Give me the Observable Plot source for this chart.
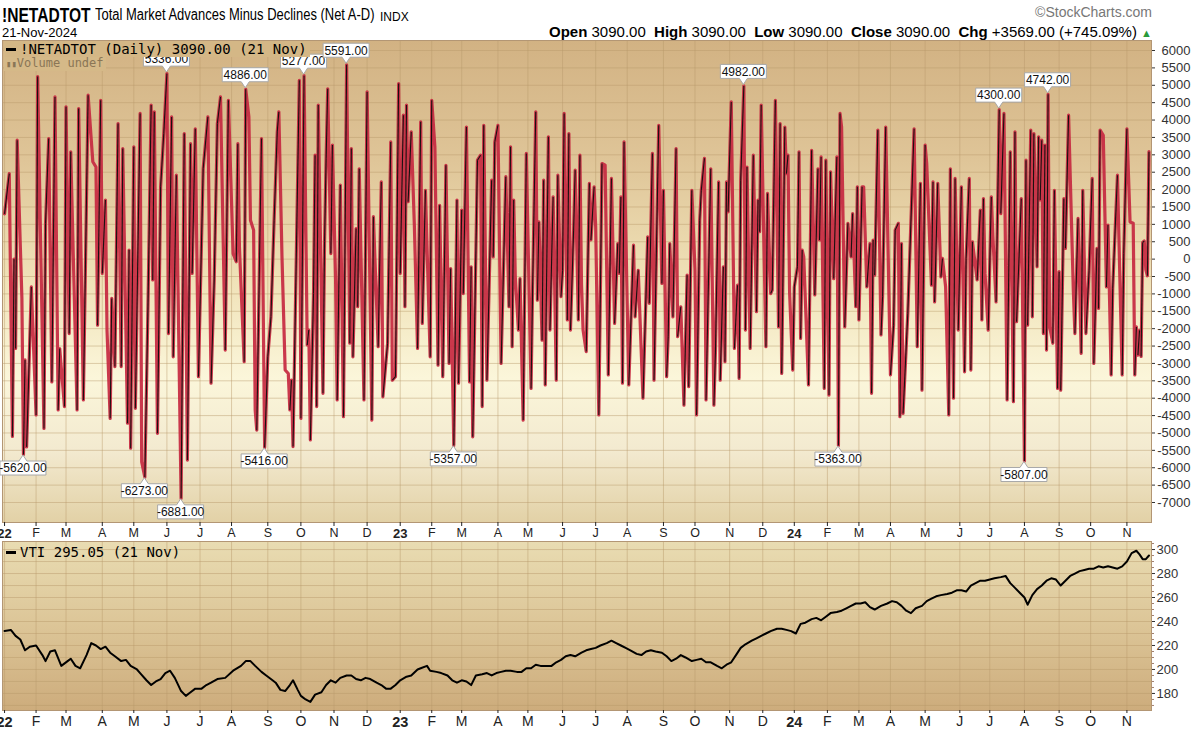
<!DOCTYPE html>
<html><head><meta charset="utf-8">
<script src="https://cdn.jsdelivr.net/npm/d3@7"></script>
<script src="https://cdn.jsdelivr.net/npm/@observablehq/plot@0.6"></script>
<style>
body{margin:0;width:1200px;height:739px;background:#fff;position:relative;overflow:hidden;font-family:"Liberation Sans",Arial,sans-serif;color:#000;}
.abs{position:absolute;white-space:nowrap;}
#top{position:absolute;left:0;top:40px;}
#bot{position:absolute;left:0;top:541px;}
.leg{position:absolute;white-space:nowrap;font-family:"DejaVu Sans Mono",monospace;font-size:14px;line-height:16px;}
.dash{display:inline-block;width:10px;height:3px;background:#000;vertical-align:middle;margin-right:4px;position:relative;top:-1px;}
</style></head><body>
<div class="abs" style="left:2px;top:3px;font:bold 20.5px 'Liberation Sans',Arial;transform:scaleX(0.76);transform-origin:0 0;">!NETADTOT</div>
<div class="abs" style="left:95px;top:6px;font:16px 'Liberation Sans',Arial;transform:scaleX(0.81);transform-origin:0 0;">Total Market Advances Minus Declines (Net A-D)</div>
<div class="abs" style="left:380px;top:10px;font:12px 'Liberation Sans',Arial;">INDX</div>
<div class="abs" style="left:2px;top:25px;font-size:13px;">21-Nov-2024</div>
<div class="abs" style="right:48px;top:4px;font-size:14px;color:#777;">©StockCharts.com</div>
<div class="abs" style="right:48px;top:23px;font-size:15px;">
  <b>Open</b> 3090.00&nbsp; <b>High</b> 3090.00&nbsp; <b>Low</b> 3090.00&nbsp; <b>Close</b> 3090.00&nbsp; <b>Chg</b> +3569.00 (+745.09%) <span style="color:#2a9a3a;font-size:11px;">▲</span>
</div>
<div id="top"></div>
<div id="bot"></div>
<div class="leg" style="left:4px;top:41px;background:#d4b786;padding:0 3px 0 2px;"><span class="dash"></span>!NETADTOT (Daily) 3090.00 (21 Nov)</div>
<div class="leg" style="left:4px;top:57px;color:#8a7656;font-size:12px;line-height:13px;background:#d5b988;padding:0 2px;"><span style="font-size:9px;">▮▮</span>Volume undef</div>
<div class="leg" style="left:6px;top:544px;"><span class="dash"></span>VTI 295.05 (21 Nov)</div>
<script>
// ---------- calendar (NYSE sessions) ----------
const holidays = ["2022-01-17","2022-02-21","2022-04-15","2022-05-30","2022-06-20","2022-07-04","2022-09-05","2022-11-24","2022-12-26",
"2023-01-02","2023-01-16","2023-02-20","2023-04-07","2023-05-29","2023-06-19","2023-07-04","2023-09-04","2023-11-23","2023-12-25",
"2024-01-01","2024-01-15","2024-02-19","2024-03-29","2024-05-27","2024-06-19","2024-07-04","2024-09-02"];
const firstSession = "2022-01-03", lastSession = "2024-11-21";
const monthTickLabels = ["22","F","M","A","M","J","J","A","S","O","N","D","23","F","M","A","M","J","J","A","S","O","N","D","24","F","M","A","M","J","J","A","S","O","N"];

// ---------- !NETADTOT daily values: [session index, value] ----------
const ad2022 = [[0,1300],[3,2460],[5,-5100],[6,0],[7,-2570],[8,3420],[11,-1130],[12,-5620],[13,-2900],[14,-5400],[17,-800],[20,-4480],[21,5250],[25,-4870],[26,1020],[28,3470],[30,-3530],[32,4665],[34,-4340],[35,-2570],[38,-4240],[39,4380],[41,-2140],[42,3085],[46,-4340],[47,4330],[50,-4050],[53,4715],[56,2800],[58,2650],[59,-1900],[61,4570],[62,-410],[64,1700],[65,-2040],[67,-4580],[68,-1130],[70,-3090],[72,3900],[74,-3090],[75,3180],[78,-4720],[79,260],[80,-5440],[82,3230],[83,-4290],[86,4190],[87,-5830],[89,-6273],[91,-1320],[93,4430],[94,-600],[95,4235],[97,-5010],[99,2080],[101,3610],[103,5336],[104,-2140],[106,4090],[107,-2810],[109,2414],[112,-6881],[114,3610],[116,-5780],[118,3320],[119,-410],[121,3750],[123,-3380],[126,2600],[129,4090],[131,-3570],[133,-600],[135,3900],[137,4665],[140,-2616],[142,4570],[145,160],[147,-75],[148,3320],[149,354],[152,-2950],[153,4886],[155,4090],[156,1120],[158,834],[159,-4340],[160,-4920],[163,3470],[165,-5416],[167,-2810],[169,-1660],[171,1120],[173,3660],[174,4235],[176,65],[178,-3190],[180,-3290],[181,-4340],[182,-3480],[183,-5390],[187,5144],[188,-4580],[190,5277],[192,-2470],[193,-2040],[194,-5200],[196,-990],[197,2990],[198,-4240],[199,4430],[202,-3860],[203,500],[204,2900],[205,4900],[207,160],[208,3280],[210,-600],[211,-4050],[213,2130],[215,-4530],[217,5591],[219,-2420],[220,3180],[221,-2810],[223,880],[224,-1370],[225,2600],[228,-4050],[230,4810],[233,-4630],[234,1220],[237,-2520],[239,2220],[240,-3960],[243,-2420],[245,3370],[246,-3480],[248,-3380],[250,5050]];
const ad2023 = [[251,-410],[253,4140],[254,-1370],[255,4430],[256,1650],[258,3660],[260,930],[262,-2570],[264,3950],[265,-1850],[267,1980],[270,-2810],[271,4570],[273,3230],[275,-3050],[276,1550],[278,-3380],[280,2700],[282,-3000],[283,-270],[285,-5357],[287,1700],[288,-3570],[290,1410],[291,-990],[293,3800],[295,-3530],[296,-220],[297,-5110],[300,2845],[302,2990],[303,-4240],[304,3850],[306,-3480],[309,2270],[310,65],[311,3370],[313,3850],[315,-3000],[318,2370],[320,-1370],[321,3230],[322,-2520],[323,1700],[324,-510],[326,-2040],[327,-560],[329,-4630],[331,3040],[334,-3720],[335,-800],[337,4235],[338,-1180],[339,1070],[341,-2330],[342,2270],[343,-3620],[345,3520],[346,-2040],[348,1790],[350,-3480],[351,2414],[353,-1080],[354,-320],[355,4190],[357,-1750],[358,3610],[359,-2040],[361,834],[362,2560],[364,-1750],[365,2990],[366,-700],[367,-2040],[369,-2660],[371,2180],[372,550],[374,2080],[375,930],[377,-4480],[379,2750],[381,2700],[383,-3330],[385,2320],[387,-1850],[389,450],[390,-410],[391,1790],[392,-3570],[393,3370],[396,-3620],[399,400],[400,-1660],[402,-320],[405,-4000],[408,640],[409,-1270],[411,3040],[412,-3480],[415,3850],[417,-700],[418,1980],[420,-3380],[421,-2230],[422,450],[424,-1660],[426,3180],[427,-2230],[429,-1370],[431,-4200],[433,-460],[434,-3670],[436,1980],[438,-320],[439,-4480],[441,1120],[442,1980],[444,2900],[445,-4050],[448,2600],[450,-4200],[451,-2616],[453,2220],[454,-3480],[456,-220],[457,-2950],[458,2220],[459,1360],[461,4520],[463,-2570],[465,-750],[466,-3430],[467,2270],[469,4982],[470,-2040],[471,2650],[473,-2570],[475,2990],[477,-1510],[478,1700],[479,790],[480,4430],[483,-2520],[484,1890],[486,-990],[487,-890],[489,4570],[491,-1950],[492,3900],[493,-3290],[495,3800],[496,2460],[497,2990],[498,-940],[500,-3190]];
const ad2024 = [[501,-800],[503,-220],[504,3085],[505,-2280],[506,260],[507,65],[510,-3620],[512,3130],[514,-1030],[516,2600],[517,550],[518,2940],[520,-3720],[521,2845],[523,-3910],[524,2510],[526,-560],[528,2940],[529,-5363],[530,4190],[531,3800],[533,-1950],[535,1030],[537,65],[538,1310],[540,-1370],[541,2080],[542,-1750],[544,2080],[545,2080],[547,-800],[549,450],[550,-3860],[551,550],[552,-460],[554,3710],[556,-2180],[557,-1080],[559,3800],[562,-3330],[564,-1900],[565,834],[567,1030],[568,-4530],[569,450],[570,-4440],[573,-1560],[577,3750],[579,-2520],[581,2180],[582,-3770],[584,3280],[585,2750],[588,-750],[589,2220],[590,-1230],[592,2180],[594,-510],[595,20],[597,-800],[599,-4480],[600,2600],[602,-4000],[603,2320],[605,-2040],[607,2080],[609,-3240],[610,20],[612,2320],[613,-3190],[614,500],[617,-600],[619,1410],[620,-1750],[621,1740],[622,-410],[624,-2040],[626,1790],[627,640],[629,-1230],[631,4300],[632,1310],[634,4190],[636,-4050],[638,3085],[640,-4100],[641,3660],[642,-1800],[645,1740],[647,-5807],[648,2845],[649,-1900],[651,3710],[652,-1660],[653,3610],[655,-220],[656,3520],[657,1700],[658,3420],[659,-2140],[660,3280],[661,-2616],[662,4742],[663,-1950],[665,-2420],[666,1980],[668,-3720],[669,-360],[670,-3770],[672,1740],[673,310],[675,4140],[678,-890],[679,-2140],[681,1170],[683,-2710],[684,1980],[686,-2140],[688,-320],[690,2320],[691,-3000],[693,310],[694,-1420],[695,3710],[697,3560],[699,-800],[700,980],[702,-3330],[703,-840],[704,260],[706,2414],[708,-1460],[709,-3330],[710,160],[712,3750],[714,1070],[716,1030],[717,-3330],[718,-1950],[719,-2760],[720,-2050],[721,-2800],[722,480],[723,520],[724,-300],[725,-479],[726,3090]];
const calloutValues = [5336,4886,5277,5591,4982,4300,4742,-5620,-6273,-6881,-5416,-5357,-5363,-5807];

// ---------- VTI closes: [session index, price] ----------
const vti2022 = [[0,232],[4,233],[7,228],[10,225],[13,216],[16,219],[20,220],[24,212],[26,207],[29,215],[32,216],[36,203],[40,207],[42,209],[45,203],[48,201],[52,212],[55,222],[58,220],[61,217],[64,219],[67,214],[70,211],[74,207],[77,208],[80,203],[84,200],[86,197],[90,191],[93,187],[96,190],[99,192],[102,197],[105,199],[108,193],[112,182],[115,178],[118,181],[121,184],[125,184],[128,187],[131,189],[135,192],[140,193],[145,199],[150,203],[153,207],[156,207],[159,203],[163,198],[166,195],[170,191],[172,189],[175,183],[178,182],[181,187],[183,191],[186,183],[188,178],[191,175],[194,173],[197,179],[201,181],[204,187],[207,191],[210,189],[213,193],[217,195],[220,195],[223,192],[226,191],[229,193],[232,192],[236,189],[239,187],[242,184],[245,184],[248,187]];
const vti2023 = [[251,191],[255,194],[258,195],[262,200],[264,201],[268,203],[270,199],[274,198],[277,197],[281,195],[284,191],[287,189],[290,191],[293,190],[296,187],[299,195],[303,196],[306,197],[309,195],[312,197],[315,198],[318,199],[321,199],[325,198],[328,198],[331,201],[334,201],[337,204],[340,203],[344,203],[347,203],[350,206],[353,208],[356,211],[359,212],[362,211],[366,214],[369,216],[372,217],[375,218],[378,220],[382,222],[385,224],[388,222],[391,220],[394,218],[397,216],[401,213],[404,212],[407,215],[410,216],[413,215],[417,214],[420,211],[423,207],[426,209],[429,212],[432,210],[436,207],[439,208],[442,209],[445,206],[448,206],[452,203],[455,201],[458,204],[461,206],[464,212],[467,218],[470,221],[474,224],[477,226],[480,228],[483,230],[486,232],[490,234],[493,234],[496,233],[499,232]];
const vti2024 = [[502,230],[505,238],[508,239],[512,242],[515,243],[518,241],[521,244],[524,247],[528,248],[531,249],[534,251],[537,253],[540,255],[543,255],[546,256],[549,252],[552,250],[556,253],[560,255],[563,257],[566,256],[569,253],[572,249],[575,247],[578,251],[582,253],[585,257],[588,259],[591,261],[594,262],[598,263],[601,264],[604,266],[607,266],[610,265],[613,270],[616,272],[619,274],[622,274],[625,275],[628,276],[632,277],[635,278],[638,272],[641,268],[644,264],[647,260],[649,254],[652,262],[655,267],[658,270],[661,274],[664,276],[667,275],[670,270],[673,274],[676,278],[679,280],[682,282],[685,283],[688,284],[691,284],[694,286],[697,285],[700,286],[703,285],[706,284],[709,286],[712,290],[715,297],[718,299],[720,296],[722,292],[724,292],[726,295.05]];

// ---------- build ----------
const hol = new Set(holidays);
const fmtDay = d3.utcFormat("%Y-%m-%d");
const sessions = d3.utcDays(new Date(firstSession), d3.utcDay.offset(new Date(lastSession), 1))
  .filter(d => d.getUTCDay() % 6 !== 0 && !hol.has(fmtDay(d)));
const monthStarts = sessions.map((d, i) => i).filter(i => i === 0 || sessions[i].getUTCMonth() !== sessions[i - 1].getUTCMonth());
const yearStarts = monthStarts.filter((_, k) => k % 12 === 0);
const otherStarts = monthStarts.filter((_, k) => k % 12 !== 0);
const tickLabel = i => monthTickLabels[monthStarts.indexOf(i)];

const ad = [...ad2022, ...ad2023, ...ad2024].map(([i, v]) => ({i, v}));
const rising = d3.pairs(ad).filter(([a, b]) => b.v > a.v).map(([a, b]) => ({i1: a.i, v1: a.v, i2: b.i, v2: b.v}));
const vti = [...vti2022, ...vti2023, ...vti2024].map(([i, v]) => ({i, v}));

const xDomain = [-1.3, sessions.length + 0.6];
const gridC = "#b8996a";
const tickFont = "Liberation Sans, Arial, sans-serif";
const narrowFont = "Liberation Sans Narrow, Liberation Sans, Arial, sans-serif";

const topPlot = Plot.plot({
  width: 1200, height: 501, marginLeft: 2, marginRight: 49, marginTop: 0, marginBottom: 19,
  style: {background: "transparent", overflow: "visible", fontFamily: tickFont},
  x: {type: "linear", domain: xDomain, axis: null},
  y: {domain: [-7575, 6288], axis: null},
  marks: [
    Plot.frame({fill: "url(#gTop)"}),
    Plot.ruleY(d3.range(-7000, 6001, 500), {stroke: gridC, strokeOpacity: 0.45}),
    Plot.ruleX(monthStarts, {stroke: gridC, strokeOpacity: 0.45}),
    Plot.line(ad, {x: "i", y: "v", stroke: "#c62840", strokeWidth: 3.2, strokeOpacity: 0.92, strokeLinejoin: "round"}),
    Plot.link(rising, {x1: "i1", y1: "v1", x2: "i2", y2: "v2", stroke: "#1a1010", strokeWidth: 1.1}),
    Plot.frame({stroke: "#b39674"}),
    Plot.axisY(d3.range(-7000, 6001, 500), {anchor: "right", label: null, tickSize: 3, tickPadding: 36, textAnchor: "end", fontSize: 13, color: "#333", tickFormat: d => String(d)}),
    Plot.axisX(otherStarts, {label: null, tickSize: 4, tickPadding: 2, fontSize: 12.5, color: "#222", tickFormat: tickLabel}),
    Plot.axisX(yearStarts, {label: null, tickSize: 4, tickPadding: 2, fontSize: 13, fontWeight: "bold", color: "#222", tickFormat: tickLabel})
  ]
});

const botPlot = Plot.plot({
  width: 1200, height: 198, marginLeft: 2, marginRight: 49, marginTop: 0, marginBottom: 29,
  style: {background: "transparent", overflow: "visible", fontFamily: tickFont},
  x: {type: "linear", domain: xDomain, axis: null},
  y: {domain: [165.8, 306.7], axis: null},
  marks: [
    Plot.frame({fill: "url(#gBot)"}),
    Plot.ruleY(d3.range(170, 301, 10), {stroke: gridC, strokeOpacity: 0.45}),
    Plot.ruleX(monthStarts, {stroke: gridC, strokeOpacity: 0.45}),
    Plot.line(vti, {x: "i", y: "v", stroke: "#000", strokeWidth: 2, strokeLinejoin: "round"}),
    Plot.frame({stroke: "#b39674"}),
    Plot.axisY(d3.range(170, 306, 5), {anchor: "right", label: null, tickSize: 2, tickFormat: () => "", color: "#a08070"}),
    Plot.axisY(d3.range(180, 301, 20), {anchor: "right", label: null, tickSize: 3, tickPadding: 2, fontSize: 13, color: "#333", tickFormat: d => String(d)}),
    Plot.axisX(otherStarts, {label: null, tickSize: 3, tickPadding: 3, fontSize: 14, fontFamily: narrowFont, color: "#222", tickFormat: tickLabel}),
    Plot.axisX(yearStarts, {label: null, tickSize: 3, tickPadding: 3, fontSize: 14.5, fontWeight: "bold", fontFamily: narrowFont, color: "#222", tickFormat: tickLabel})
  ]
});

function addGradient(svg, id, stops) {
  const defs = d3.select(svg).insert("defs", ":first-child");
  const lg = defs.append("linearGradient").attr("id", id).attr("x1", 0).attr("y1", 0).attr("x2", 0).attr("y2", 1);
  for (const [o, c] of stops) lg.append("stop").attr("offset", o).attr("stop-color", c);
}
addGradient(topPlot, "gTop", [[0, "#d2b283"], [0.25, "#dfc598"], [0.5, "#f0e2b8"], [0.7, "#fbf6da"], [0.85, "#f3ead0"], [1, "#e2d1a6"]]);
addGradient(botPlot, "gBot", [[0, "#e9dcb2"], [0.5, "#dcc597"], [1, "#cdac7c"]]);

// callouts on labelled extremes, positioned through Plot's scales
function addCallouts(svg, plot, pts) {
  const sx = plot.scale("x"), sy = plot.scale("y");
  const g = d3.select(svg).append("g").attr("font-family", tickFont).attr("font-size", 12);
  for (const p of pts) {
    const x = sx.apply(p.i), y = sy.apply(p.v);
    const up = p.v > 0, w = 46, h = 14, t = 6;
    const tip = up ? y - 1 : y + 1;
    const by = up ? tip - t - h : tip + t;
    const d = up
      ? `M${x - w / 2},${by}h${w}v${h}h${-(w / 2 - 4)}l-4,${t}l-4,${-t}h${-(w / 2 - 4)}z`
      : `M${x - w / 2},${by}h${w / 2 - 4}l4,${-t}l4,${t}h${w / 2 - 4}v${h}h${-w}z`;
    g.append("path").attr("d", d).attr("fill", "#fff").attr("stroke", "#a8a8a8");
    g.append("text").attr("x", x).attr("y", by + h / 2).attr("dy", "0.36em").attr("text-anchor", "middle").attr("fill", "#111").text(p.v.toFixed(2));
  }
}
addCallouts(topPlot, topPlot, calloutValues.map(v => ad.find(p => p.v === v)));

document.getElementById("top").appendChild(topPlot);
document.getElementById("bot").appendChild(botPlot);
</script>
</body></html>
